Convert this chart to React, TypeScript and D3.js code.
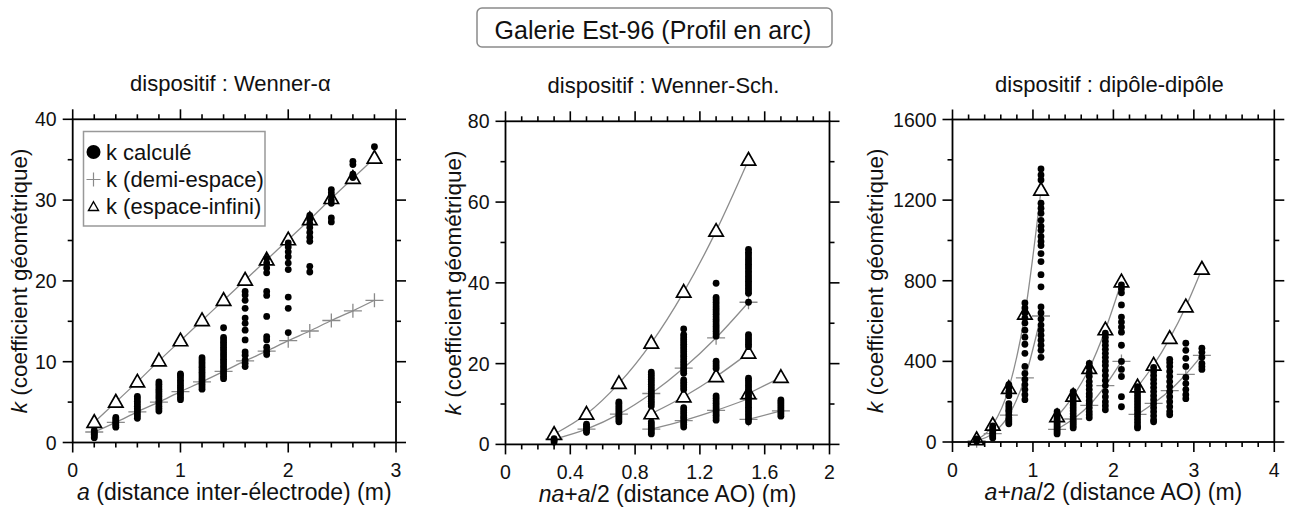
import React from 'react';
import * as d3 from 'd3';

const FONT = "'Liberation Sans', Arial, Helvetica, sans-serif";
const LINE_GRAY = '#8c8c8c';
const CROSS_GRAY = '#8a8a8a';

// ---------------- Panel 1 : Wenner-alpha ----------------
const waX = [0.2, 0.4, 0.6, 0.8, 1.0, 1.2, 1.4, 1.6, 1.8, 2.0, 2.2, 2.4, 2.6, 2.8];
const waHalf = [1.3, 2.5, 3.8, 5.0, 6.3, 7.5, 8.8, 10.1, 11.3, 12.6, 13.8, 15.1, 16.3, 17.6];
const waInf = [2.5, 5.0, 7.5, 10.1, 12.6, 15.1, 17.6, 20.1, 22.6, 25.1, 27.6, 30.2, 32.7, 35.2];
const waCalc: [number, number[]][] = [
  [0.2, [0.6, 0.8, 1.0, 1.1, 1.3, 1.5]],
  [0.4, [1.9, 2.1, 2.3, 2.5, 2.7, 2.9, 3.1]],
  [0.6, [3.0, 3.3, 3.6, 3.9, 4.2, 4.5, 4.8, 5.1, 5.4, 5.7]],
  [0.8, [3.9, 4.2, 4.5, 4.8, 5.1, 5.4, 5.7, 6.0, 6.3, 6.6, 6.9, 7.2, 7.5]],
  [1.0, [5.3, 5.6, 5.9, 6.2, 6.5, 6.8, 7.1, 7.4, 7.7, 8.0, 8.3, 8.5]],
  [1.2, [6.6, 6.9, 7.2, 7.5, 7.8, 8.1, 8.4, 8.7, 9.0, 9.3, 9.6, 9.9, 10.2, 10.5]],
  [1.4, [7.9, 8.2, 8.5, 8.8, 9.1, 9.4, 9.7, 10.0, 10.3, 10.6, 10.9, 11.2, 11.5, 11.8, 12.1, 12.4, 12.7, 13.0, 14.2]],
  [1.6, [9.4, 9.8, 10.2, 10.8, 11.2, 12.7, 13.9, 14.75, 15.4, 16.6, 17.6, 18.25, 18.7]],
  [1.8, [10.9, 11.3, 11.8, 12.7, 13.1, 15.6, 18.2, 18.7, 21.0, 21.6, 22.2, 22.8]],
  [2.0, [13.6, 16.6, 18.0, 21.4, 22.2, 23.0, 23.6, 24.2, 24.7]],
  [2.2, [21.1, 21.8, 24.9, 25.4, 26.0, 26.6, 27.1, 27.6, 28.1]],
  [2.4, [27.3, 27.8, 29.6, 30.0, 30.5, 30.9, 31.3]],
  [2.6, [32.8, 33.2, 34.4, 34.8]],
  [2.8, [36.6]],
];

// ---------------- Panel 2 : Wenner-Schlumberger ----------------
const wsA02X = [0.3, 0.5, 0.7, 0.9, 1.1, 1.3, 1.5];
const wsA02Inf = [2.5, 7.5, 15.1, 25.1, 37.7, 52.8, 70.4];
const wsA02Half = [1.3, 3.8, 7.5, 12.6, 18.9, 26.4, 35.2];
const wsA06X = [0.9, 1.1, 1.3, 1.5];
const wsA06Inf = [7.6, 11.8, 16.8, 22.6];
const wsA06Half = [3.8, 5.9, 8.4, 11.3];
const wsA10X = [1.5, 1.7];
const wsA10Inf = [12.6, 16.6];
const wsA10Half = [6.2, 8.3];
const wsCalc: [number, number[]][] = [
  [0.3, [0.6, 1.0, 1.4]],
  [0.5, [3.0, 3.5, 4.0, 4.5, 5.0]],
  [0.7, [5.6, 6.1, 6.6, 7.1, 7.6, 8.1, 8.6, 9.1, 9.6, 10.1, 10.5]],
  [0.9, [2.6, 3.1, 3.6, 4.1, 4.6, 5.1, 5.6, 9.5, 10.1, 10.7, 11.3, 11.9, 12.5, 13.1, 13.7, 14.3, 14.9, 15.5, 16.1, 16.7, 17.3, 17.9]],
  [1.1, [4.3, 4.9, 5.5, 6.1, 6.7, 7.3, 7.9, 8.5, 9.1, 13.6, 14.2, 14.8, 15.4, 16.0, 17.6, 18.2, 18.8, 19.4, 20.0, 20.6, 21.2, 21.8, 22.4, 23.0, 23.6, 24.2, 24.8, 25.4, 26.0, 26.6, 27.2, 28.6]],
  [1.3, [6.0, 6.6, 7.2, 7.8, 8.4, 9.0, 9.6, 10.2, 10.8, 11.4, 12.0, 18.8, 19.4, 20.0, 20.6, 26.8, 27.4, 28.0, 28.6, 29.2, 29.8, 30.4, 31.0, 31.6, 32.2, 32.8, 33.4, 34.0, 34.6, 35.2, 35.8, 36.4, 39.9]],
  [1.5, [5.6, 6.2, 6.8, 7.4, 8.0, 8.6, 9.2, 9.8, 10.4, 11.0, 11.6, 12.2, 12.8, 13.4, 14.0, 14.6, 15.2, 15.8, 16.4, 24.2, 24.8, 25.4, 26.0, 26.6, 27.2, 35.2, 37.4, 38.0, 38.6, 39.2, 39.8, 40.4, 41.0, 41.6, 42.2, 42.8, 43.4, 44.0, 44.6, 45.2, 45.8, 46.4, 47.0, 47.6, 48.3]],
  [1.7, [7.0, 7.5, 8.0, 8.5, 9.0, 9.5, 10.0, 10.5, 11.0]],
];

// ---------------- Panel 3 : dipole-dipole ----------------
const ddG1X = [0.3, 0.5, 0.7, 0.9, 1.1];
const ddG1Inf = [12, 84, 266, 635, 1250];
const ddG1Half = [6, 42, 133, 318, 625];
const ddG2X = [1.3, 1.5, 1.7, 1.9, 2.1];
const ddG2Inf = [126, 228, 365, 557, 795];
const ddG2Half = [63, 114, 182, 280, 400];
const ddG3X = [2.3, 2.5, 2.7, 2.9, 3.1];
const ddG3Inf = [274, 382, 514, 671, 858];
const ddG3Half = [137, 192, 255, 336, 430];
const ddCalc: [number, number[]][] = [
  [0.3, [4, 10, 16]],
  [0.5, [20, 30, 40, 50, 60, 70, 80]],
  [0.7, [90, 100, 110, 120, 135, 150, 160, 175, 190, 230, 250, 270, 285]],
  [0.9, [210, 235, 260, 285, 310, 340, 375, 440, 485, 520, 555, 590, 615, 640, 665, 690]],
  [1.1, [420, 455, 480, 505, 530, 555, 580, 610, 640, 670, 770, 830, 895, 935, 975, 995, 1020, 1050, 1070, 1100, 1135, 1160, 1185, 1300, 1325, 1355]],
  [1.3, [40, 50, 60, 70, 80, 90, 100, 110, 120, 135, 150]],
  [1.5, [70, 80, 90, 100, 110, 125, 140, 155, 170, 185, 200, 215, 230, 250]],
  [1.7, [120, 135, 150, 170, 190, 205, 225, 240, 260, 280, 300, 325, 345, 370, 390]],
  [1.9, [160, 180, 200, 225, 250, 280, 305, 330, 355, 380, 400, 420, 440, 460, 480, 500, 520, 540]],
  [2.1, [175, 225, 325, 360, 400, 480, 545, 570, 595, 620, 680, 740, 760, 780]],
  [2.3, [70, 80, 95, 110, 125, 140, 155, 170, 185, 200, 215, 230, 245, 260, 275]],
  [2.5, [100, 110, 130, 150, 170, 190, 210, 230, 250, 270, 290, 310, 330, 350, 370]],
  [2.7, [135, 150, 175, 200, 225, 250, 275, 300, 325, 350, 375, 395, 410]],
  [2.9, [215, 235, 260, 290, 320, 375, 415, 455, 490]],
  [3.1, [360, 375, 390, 420, 445, 465]],
];

// ---------------- ticks ----------------
const p1XTicks = ['0', '1', '2', '3'];
const p2XTicks = ['0', '0.4', '0.8', '1.2', '1.6', '2'];
const p3XTicks = ['0', '1', '2', '3', '4'];
const p1YTicks = ['0', '10', '20', '30', '40'];
const p2YTicks = ['0', '20', '40', '60', '80'];
const p3YTicks = ['0', '400', '800', '1200', '1600'];

type Curve = { x: number[]; half: number[]; inf: number[] };

interface PanelProps {
  left: number; right: number; top: number; bottom: number;
  xDomain: [number, number]; yDomain: [number, number];
  xMinor: number; yMinor: number;
  xTicks: string[]; yTicks: string[];
  title: React.ReactNode; xLabel: React.ReactNode; yLabelX: number;
  curves: Curve[]; calc: [number, number[]][];
}

const triPath = (cx: number, cy: number, s: number) =>
  `M${cx},${cy - s * 1.05}L${cx + s},${cy + s * 0.7}L${cx - s},${cy + s * 0.7}Z`;

function Panel(p: PanelProps) {
  const xs = d3.scaleLinear().domain(p.xDomain).range([p.left, p.right]);
  const ys = d3.scaleLinear().domain(p.yDomain).range([p.bottom, p.top]);
  const line = d3
    .line<[number, number]>()
    .x((d) => xs(d[0]))
    .y((d) => ys(d[1]))
    .curve(d3.curveMonotoneX);

  const nX = Math.round((p.xDomain[1] - p.xDomain[0]) / p.xMinor);
  const nY = Math.round((p.yDomain[1] - p.yDomain[0]) / p.yMinor);
  const xMajorVals = p.xTicks.map(Number);
  const yMajorVals = p.yTicks.map(Number);
  const xTickVals = d3.range(nX + 1).map((i) => p.xDomain[0] + i * p.xMinor);
  const yTickVals = d3.range(nY + 1).map((i) => p.yDomain[0] + i * p.yMinor);
  const isMajor = (v: number, arr: number[]) => arr.some((m) => Math.abs(m - v) < 1e-6);
  const MAJ = 10, MIN = 5;

  const cx = (p.left + p.right) / 2;
  const cy = (p.top + p.bottom) / 2;

  return (
    <g>
      {p.curves.map((c, i) => (
        <g key={'l' + i}>
          <path d={line(c.x.map((x, j) => [x, c.inf[j]]) as [number, number][]) || ''} fill="none" stroke={LINE_GRAY} strokeWidth={1.3} />
          <path d={line(c.x.map((x, j) => [x, c.half[j]]) as [number, number][]) || ''} fill="none" stroke={LINE_GRAY} strokeWidth={1.3} />
        </g>
      ))}
      {p.curves.map((c, i) => (
        <g key={'c' + i}>
          {c.x.map((x, j) => (
            <path key={j} d={`M${xs(x) - 9},${ys(c.half[j])}H${xs(x) + 9}M${xs(x)},${ys(c.half[j]) - 7}V${ys(c.half[j]) + 7}`} stroke={CROSS_GRAY} strokeWidth={1.3} fill="none" />
          ))}
        </g>
      ))}
      {p.curves.map((c, i) => (
        <g key={'t' + i}>
          {c.x.map((x, j) => (
            <path key={j} d={triPath(xs(x), ys(c.inf[j]), 7.2)} stroke="#000" strokeWidth={1.7} fill="#fff" />
          ))}
        </g>
      ))}
      {p.calc.map(([x, vals], i) => (
        <g key={'d' + i}>
          {vals.map((v, j) => (
            <circle key={j} cx={xs(x)} cy={ys(v)} r={3.4} fill="#000" />
          ))}
        </g>
      ))}
      <rect x={p.left} y={p.top} width={p.right - p.left} height={p.bottom - p.top} fill="none" stroke="#000" strokeWidth={1.8} />
      {xTickVals.map((v, i) => {
        const len = isMajor(v, xMajorVals) ? MAJ : MIN;
        const X = xs(v);
        return (
          <g key={'xt' + i}>
            <line x1={X} x2={X} y1={p.bottom} y2={p.bottom + len} stroke="#000" strokeWidth={1.6} />
            <line x1={X} x2={X} y1={p.top} y2={p.top - len} stroke="#000" strokeWidth={1.6} />
          </g>
        );
      })}
      {yTickVals.map((v, i) => {
        const len = isMajor(v, yMajorVals) ? MAJ : MIN;
        const Y = ys(v);
        return (
          <g key={'yt' + i}>
            <line y1={Y} y2={Y} x1={p.left} x2={p.left - len} stroke="#000" strokeWidth={1.6} />
            <line y1={Y} y2={Y} x1={p.right} x2={p.right + len} stroke="#000" strokeWidth={1.6} />
          </g>
        );
      })}
      {p.xTicks.map((t, i) => (
        <text key={'xl' + i} x={xs(Number(t))} y={p.bottom + 34.5} textAnchor="middle" fontSize={19.5} fontFamily={FONT} fill="#111">{t}</text>
      ))}
      {p.yTicks.map((t, i) => (
        <text key={'yl' + i} x={p.left - 16} y={ys(Number(t))} dy="0.36em" textAnchor="end" fontSize={19.5} fontFamily={FONT} fill="#111">{t}</text>
      ))}
      <text x={cx - 4} y={p.top - 28} textAnchor="middle" fontSize={22} fontFamily={FONT} fill="#111">{p.title}</text>
      <text x={cx} y={p.bottom + 57.5} textAnchor="middle" fontSize={23} fontFamily={FONT} fill="#111">{p.xLabel}</text>
      <text transform={`translate(${p.yLabelX},${cy}) rotate(-90)`} textAnchor="middle" fontSize={22.5} fontFamily={FONT} fill="#111">
        <tspan fontStyle="italic">k</tspan>{' (coefficient géométrique)'}
      </text>
    </g>
  );
}

export default function App() {
  return (
    <svg width={1289} height={511} style={{ position: 'absolute', left: 0, top: 0, background: '#fff' }}>
      <rect x={0} y={0} width={1289} height={511} fill="#fff" />
      <rect x={477} y={8} width={355} height={39} rx={5} ry={5} fill="#fff" stroke="#8a8a8a" strokeWidth={1.5} />
      <text x={653} y={39} textAnchor="middle" fontSize={25} fontFamily={FONT} fill="#111">Galerie Est-96 (Profil en arc)</text>

      <Panel
        left={72.7} right={396} top={119.3} bottom={442.5}
        xDomain={[0, 3]} yDomain={[0, 40]} xMinor={0.2} yMinor={5}
        xTicks={p1XTicks} yTicks={p1YTicks}
        title={'dispositif : Wenner-α'}
        xLabel={<><tspan fontStyle="italic">a</tspan>{' (distance inter-électrode) (m)'}</>}
        yLabelX={27}
        curves={[{ x: waX, half: waHalf, inf: waInf }]}
        calc={waCalc}
      />
      <Panel
        left={505.5} right={829.5} top={121.3} bottom={444.4}
        xDomain={[0, 2]} yDomain={[0, 80]} xMinor={0.1} yMinor={10}
        xTicks={p2XTicks} yTicks={p2YTicks}
        title={'dispositif : Wenner-Sch.'}
        xLabel={<><tspan fontStyle="italic">na</tspan>+<tspan fontStyle="italic">a</tspan>{'/2 (distance AO) (m)'}</>}
        yLabelX={461}
        curves={[
          { x: wsA02X, half: wsA02Half, inf: wsA02Inf },
          { x: wsA06X, half: wsA06Half, inf: wsA06Inf },
          { x: wsA10X, half: wsA10Half, inf: wsA10Inf },
        ]}
        calc={wsCalc}
      />
      <Panel
        left={952.5} right={1274.3} top={119.5} bottom={442}
        xDomain={[0, 4]} yDomain={[0, 1600]} xMinor={0.2} yMinor={200}
        xTicks={p3XTicks} yTicks={p3YTicks}
        title={'dispositif : dipôle-dipôle'}
        xLabel={<><tspan fontStyle="italic">a</tspan>+<tspan fontStyle="italic">na</tspan>{'/2 (distance AO) (m)'}</>}
        yLabelX={883}
        curves={[
          { x: ddG1X, half: ddG1Half, inf: ddG1Inf },
          { x: ddG2X, half: ddG2Half, inf: ddG2Inf },
          { x: ddG3X, half: ddG3Half, inf: ddG3Inf },
        ]}
        calc={ddCalc}
      />

      <rect x={83.5} y={131.5} width={181.5} height={94.5} fill="#fff" stroke="#999" strokeWidth={1.5} />
      <circle cx={93.5} cy={152} r={7} fill="#000" />
      <text x={106} y={159.5} fontSize={22} fontFamily={FONT} fill="#111">k calculé</text>
      <path d="M86.5,179.5H100.5M93.5,172.5V186.5" stroke={CROSS_GRAY} strokeWidth={1.2} fill="none" />
      <text x={106} y={187} fontSize={22} fontFamily={FONT} fill="#111">k (demi-espace)</text>
      <path d={triPath(93.5, 207, 5)} stroke="#000" strokeWidth={1.4} fill="#fff" />
      <text x={106} y={214} fontSize={22} fontFamily={FONT} fill="#111">k (espace-infini)</text>
    </svg>
  );
}
